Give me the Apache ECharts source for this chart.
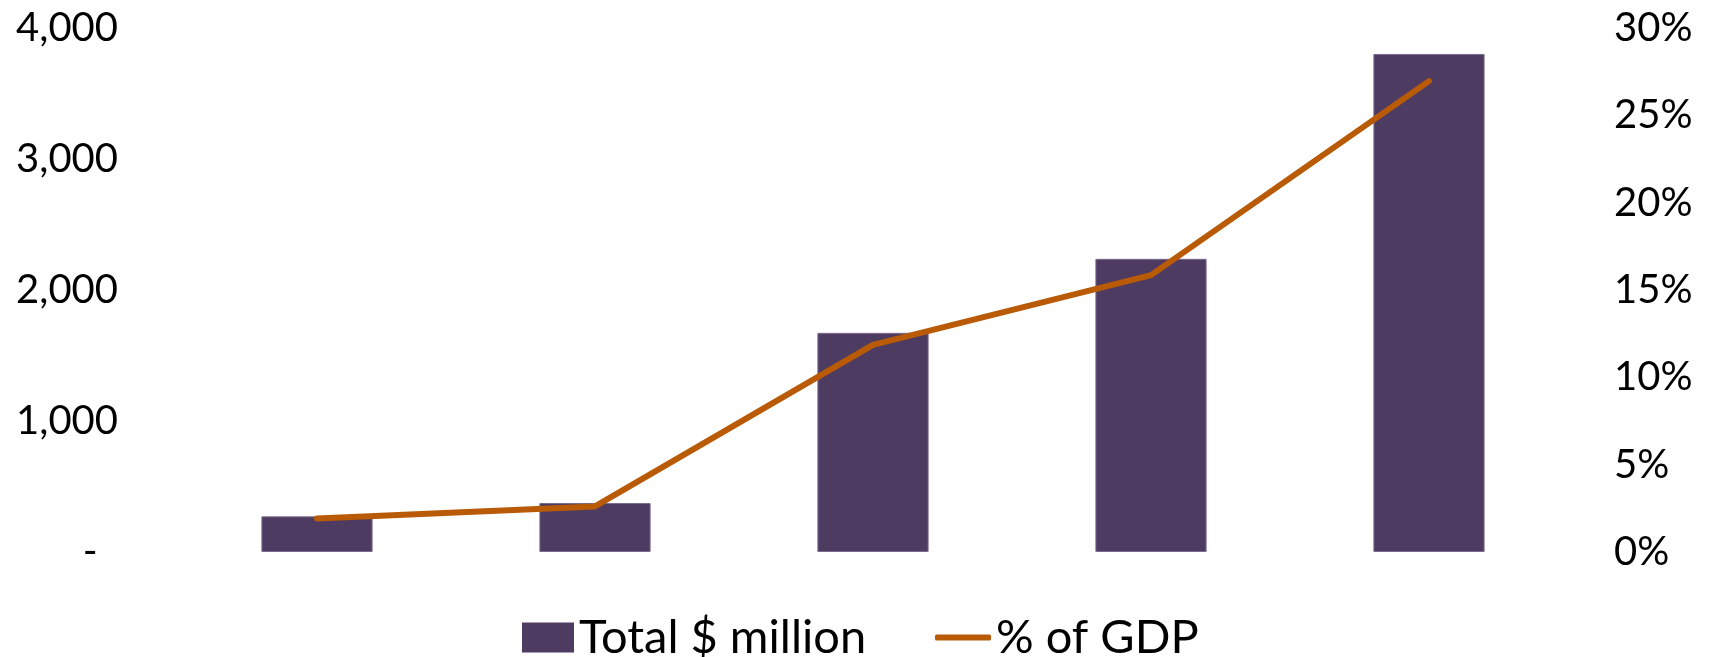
<!DOCTYPE html>
<html>
<head>
<meta charset="utf-8">
<script src="https://cdn.jsdelivr.net/npm/echarts@6/dist/echarts.min.js"></script>
<style>
html,body{margin:0;padding:0;background:#fff;}
#chart{width:1713px;height:657px;}
</style>
</head>
<body>
<div id="chart"></div>
<script>
const categories = ['1', '2', '3', '4', '5'];
const totalMillion = [272, 374, 1673, 2238, 3802];
const pctOfGDP = [1.92, 2.61, 11.86, 15.85, 26.96];
const leftTicks = [0, 1000, 2000, 3000, 4000];
const rightTicks = [0, 5, 10, 15, 20, 25, 30];

const chart = echarts.init(document.getElementById('chart'));
const fontFamily = 'Lato';
chart.setOption({
  animation: false,
  backgroundColor: '#ffffff',
  grid: { left: 178, right: 145, top: 28, bottom: 105, containLabel: false },
  legend: [
    {
      data: [{ name: 'Total $ million', icon: 'rect', itemStyle: { borderWidth: 0 } }],
      left: 517, top: 609,
      itemWidth: 52, itemHeight: 30,
      textStyle: { fontFamily: fontFamily, fontSize: 47, color: '#000', lineHeight: 46 }
    },
    {
      data: [{ name: '% of GDP', icon: 'roundRect', itemStyle: { color: '#B95A06', borderWidth: 0 } }],
      left: 930, top: 609,
      itemWidth: 56, itemHeight: 6,
      textStyle: { fontFamily: fontFamily, fontSize: 47, color: '#000', lineHeight: 46 }
    }
  ],
  xAxis: {
    type: 'category',
    data: categories,
    boundaryGap: true,
    axisLine: { show: false },
    axisTick: { show: false },
    axisLabel: { show: false },
    splitLine: { show: false }
  },
  yAxis: [
    {
      type: 'value',
      min: leftTicks[0], max: leftTicks[leftTicks.length - 1], interval: 1000,
      axisLine: { show: false }, axisTick: { show: false }, splitLine: { show: false },
      axisLabel: {
        margin: 60,
        fontFamily: fontFamily, fontSize: 40, color: '#000',
        formatter: function (v) { return v === 0 ? '-  ' : v.toLocaleString('en-US'); }
      }
    },
    {
      type: 'value',
      min: rightTicks[0], max: rightTicks[rightTicks.length - 1], interval: 5,
      position: 'right',
      axisLine: { show: false }, axisTick: { show: false }, splitLine: { show: false },
      axisLabel: {
        margin: 46,
        fontFamily: fontFamily, fontSize: 40, color: '#000',
        formatter: function (v) { return v + '%'; }
      }
    }
  ],
  series: [
    {
      name: 'Total $ million',
      type: 'bar',
      data: totalMillion,
      barWidth: '40%',
      itemStyle: { color: '#4D3B61', borderColor: '#7B6B8E', borderWidth: 1 },
      z: 2
    },
    {
      name: '% of GDP',
      type: 'line',
      yAxisIndex: 1,
      data: pctOfGDP,
      symbol: 'none',
      lineStyle: { color: '#B95A06', width: 6, cap: 'round', join: 'round' },
      itemStyle: { color: '#B95A06' },
      z: 3
    }
  ]
});
</script>
</body>
</html>
